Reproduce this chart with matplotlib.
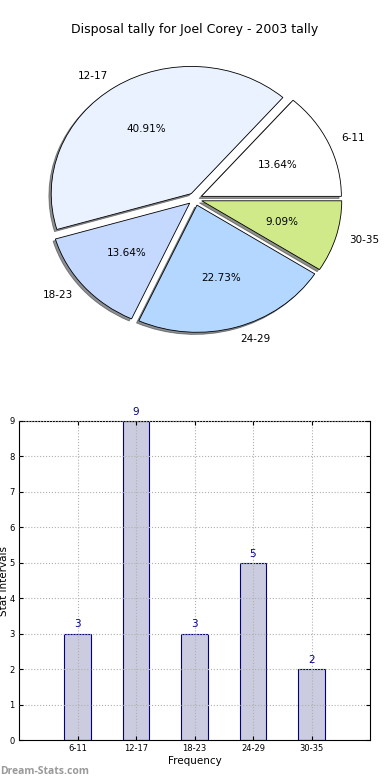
import matplotlib
matplotlib.use("Agg")
import matplotlib.pyplot as plt

# data
intervals = ["6-11", "12-17", "18-23", "24-29", "30-35"]
counts = [3, 9, 3, 5, 2]
pie_colors = ["#ffffff", "#eaf2ff", "#c5d9ff", "#b4d7ff", "#d0ea8a"]

fig = plt.figure(figsize=(3.9, 7.8), dpi=100)

# pie on top (old-style, not forced to a circle)
ax1 = fig.add_axes([20 / 390, 1 - 358 / 780, 350 / 390, 318 / 780])
wedges, texts, autotexts = ax1.pie(
    counts, labels=intervals, colors=pie_colors, explode=[0.05] * 5,
    autopct="%.2f%%", shadow=dict(ox=-0.012, oy=-0.012, shade=0.85),
    startangle=0, counterclock=True,
    wedgeprops=dict(edgecolor="black", linewidth=0.6),
    textprops=dict(fontsize=7.5))
ax1.set_aspect("auto")
ax1.set_xlim(-1.25, 1.25)
ax1.set_ylim(-1.25, 1.25)
fig.text(0.5, 1 - 30 / 780, "Disposal tally for Joel Corey - 2003 tally",
         ha="center", va="center", fontsize=9)

# bar chart below
ax2 = fig.add_axes([19 / 390, 40 / 780, 351 / 390, 319 / 780])
x = list(range(len(intervals)))
bars = ax2.bar(x, counts, width=0.45, color="#cccce0", edgecolor="#000080",
               linewidth=0.8)
for xi, c in zip(x, counts):
    ax2.text(xi, c + 0.12, str(c), ha="center", va="bottom",
             color="#000080", fontsize=7.5)
ax2.set_xlim(-1, 5)
ax2.set_ylim(0, 9)
ax2.set_xticks(x)
ax2.set_xticklabels(intervals)
ax2.set_yticks(range(10))
ax2.tick_params(direction="in", labelsize=6, top=True, right=True,
                length=3, pad=3)
ax2.grid(True, color="#b0b0b0", linestyle=":", linewidth=0.8)
ax2.set_axisbelow(False)
ax2.set_ylabel("Stat Intervals", fontsize=7.5, labelpad=0)
ax2.set_xlabel("Frequency", fontsize=7.5, labelpad=2)
for s in ax2.spines.values():
    s.set_linewidth(0.8)

fig.text(0.0, 1 - 771 / 780, "Dream-Stats.com", ha="left", va="center",
         fontsize=7.5, fontweight="bold", color="#999999",
         family=["Open Sans", "DejaVu Sans"])

fig.savefig("out.png", dpi=100)
